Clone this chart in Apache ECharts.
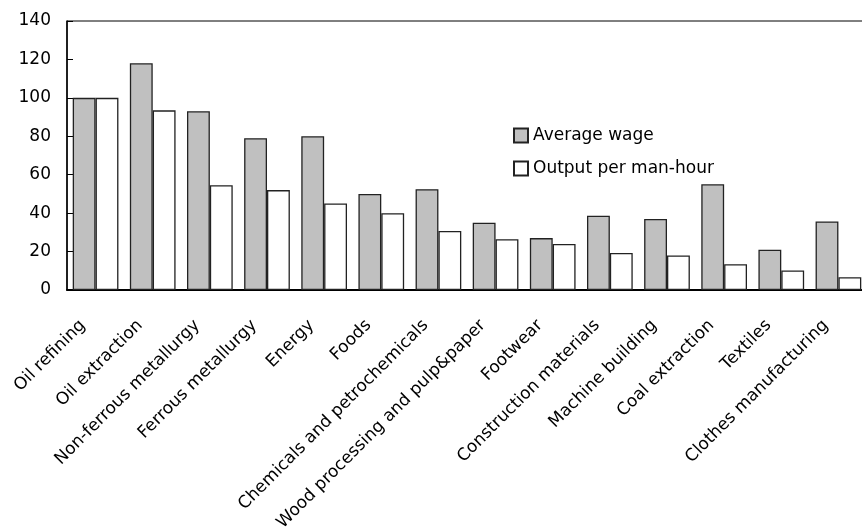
<!DOCTYPE html>
<html><head><meta charset="utf-8">
<script src="https://cdn.jsdelivr.net/npm/echarts@6/dist/echarts.min.js"></script>
<style>html,body{margin:0;padding:0;background:#fff}#c{width:862px;height:527px}</style>
</head><body><div id="c"></div>
<script>
const categories = ["Oil refining","Oil extraction","Non-ferrous metallurgy","Ferrous metallurgy","Energy","Foods","Chemicals and petrochemicals","Wood processing and pulp&paper","Footwear","Construction materials","Machine building","Coal extraction","Textiles","Clothes manufacturing"];
const averageWage = [100,118,93,79,80,50,52.5,35,27,38.7,37,55,21,35.7];
const outputPerManHour = [100,93.5,54.5,52,45,40,30.7,26.4,24,19.3,18,13.4,10.2,6.6];
const yTicks = {min:0,max:140,interval:20};
const FONT = "DejaVu Sans";
const chart = echarts.init(document.getElementById('c'));
chart.setOption({
  animation:false,
  textStyle:{fontFamily:FONT},
  grid:{left:67,top:21,width:800,bottom:237,outerBoundsMode:'none',containLabel:false,show:true,borderColor:'#000',borderWidth:1,backgroundColor:'transparent'},
  legend:{orient:'vertical',left:513,top:127,padding:0,itemWidth:14,itemHeight:14,itemGap:16,
    textStyle:{fontFamily:FONT,fontSize:17,color:'#000'},
    data:[{name:'Average wage',icon:'rect'},{name:'Output per man-hour',icon:'rect'}]},
  xAxis:{type:'category',data:categories,
    axisLine:{lineStyle:{color:'#000',width:2}},
    axisTick:{inside:true,length:6,lineStyle:{color:'#000'}},
    axisLabel:{rotate:45,interval:0,color:'#000',fontFamily:FONT,fontSize:17,margin:20,verticalAlign:'middle',padding:[0,18,0,0]}},
  yAxis:{type:'value',min:yTicks.min,max:yTicks.max,interval:yTicks.interval,
    axisLine:{show:true,lineStyle:{color:'#000',width:1.5}},
    axisTick:{show:true,inside:true,length:6,lineStyle:{color:'#000'}},
    splitLine:{show:false},
    axisLabel:{color:'#000',fontFamily:FONT,fontSize:17,margin:16}},
  series:[
    {name:'Average wage',type:'bar',data:averageWage,barGap:'0%',barCategoryGap:'20%',
     itemStyle:{color:'#c0c0c0',borderColor:'#222',borderWidth:1.3}},
    {name:'Output per man-hour',type:'bar',data:outputPerManHour,
     itemStyle:{color:'#fff',borderColor:'#222',borderWidth:1.3}}
  ]
});
</script></body></html>
